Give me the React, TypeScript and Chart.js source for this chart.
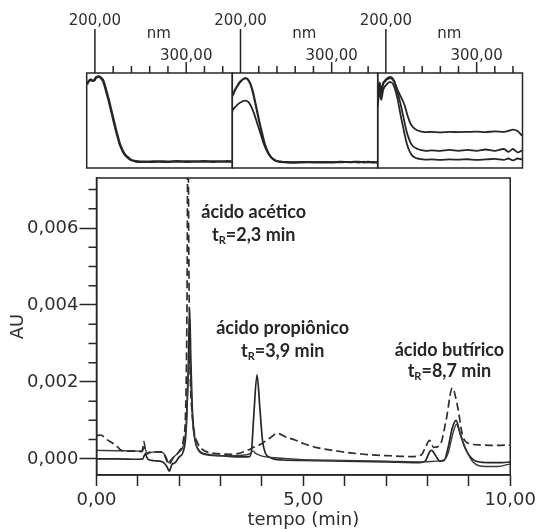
import React, { useEffect, useRef } from 'react';
import { Chart, registerables } from 'chart.js';
Chart.register(...registerables);

// ---------- Main chromatogram data ----------
const trace1Time = [0, 0.5, 1.0, 1.12, 1.17, 1.25, 1.4, 1.6, 1.7, 1.76, 1.82, 1.9, 2.0, 2.1, 2.17, 2.22, 2.25, 2.28, 2.32, 2.38, 2.45, 2.6, 3.0, 3.5, 3.7, 3.75, 3.8, 3.88, 3.95, 4.01, 4.08, 4.18, 4.5, 5.0, 6.0, 7.0, 7.8, 7.95, 8.05, 8.1, 8.2, 8.3, 8.4, 8.5, 8.6, 8.69, 8.78, 8.9, 9.0, 9.2, 9.5, 9.8, 10.0];
const trace1AU = [0.0, 0.0, -0.00001, 0.0, 0.00012, -0.00002, -0.00005, -0.00008, -0.0002, -0.00032, -0.00015, -0.0001, 0.00005, 0.0002, 0.0008, 0.0025, 0.0039, 0.0026, 0.0012, 0.0005, 0.00025, 0.00012, 0.00008, 0.00005, 0.00006, 0.00025, 0.0011, 0.00218, 0.0013, 0.0005, 0.00015, 0.00004, -0.00003, -0.00004, -0.00006, -0.00008, -0.0001, -0.00005, 0.00018, 0.00022, 0.00008, -0.00006, -0.00005, 0.0003, 0.0008, 0.001, 0.0007, 0.0003, 0.0001, -0.00007, -0.0001, -0.0001, -0.00008];

const trace2Time = [0, 0.5, 1.0, 1.1, 1.16, 1.22, 1.4, 1.6, 1.68, 1.74, 1.8, 1.9, 2.0, 2.1, 2.17, 2.22, 2.25, 2.28, 2.33, 2.4, 2.5, 2.7, 3.2, 3.6, 3.72, 3.78, 3.85, 4.0, 4.3, 5.0, 6.0, 7.0, 7.9, 8.2, 8.4, 8.5, 8.6, 8.7, 8.8, 8.95, 9.1, 9.4, 9.7, 10.0];
const trace2AU = [0.00022, 0.00021, 0.0002, 0.00018, 0.0003, 0.00015, 0.00018, 0.00016, 0.00005, -0.0001, -0.00002, 0.00008, 0.00018, 0.00035, 0.0009, 0.0022, 0.0028, 0.002, 0.0009, 0.0004, 0.0002, 0.00012, 0.00008, 0.0001, 0.00014, 0.0002, 0.00014, 0.00007, 0.00003, -0.00002, -0.00004, -0.00006, -0.00008, -0.00006, -0.00003, 0.00015, 0.0006, 0.0009, 0.0006, 0.0002, -0.00008, -0.0002, -0.0002, -0.00013];

const trace3Time = [0, 0.1, 0.25, 0.4, 0.5, 0.6, 0.8, 1.1, 1.15, 1.19, 1.3, 1.6, 1.68, 1.75, 1.85, 2.0, 2.1, 2.16, 2.19, 2.21, 2.23, 2.26, 2.31, 2.36, 2.45, 2.55, 2.8, 3.3, 3.6, 3.8, 4.0, 4.2, 4.37, 4.6, 4.8, 5.0, 5.3, 5.9, 6.45, 7.1, 7.6, 7.85, 7.95, 8.05, 8.15, 8.3, 8.45, 8.6, 8.72, 8.85, 9.0, 9.3, 9.7, 10.0];
const trace3AU = [0.0006, 0.00062, 0.0005, 0.0004, 0.00032, 0.00022, 0.0002, 0.0002, 0.00045, 0.0001, 0.00018, 0.00018, 0.0, -0.00015, 0.00002, 0.0002, 0.0005, 0.0015, 0.0045, 0.0095, 0.0055, 0.0025, 0.0012, 0.0007, 0.0004, 0.00025, 0.00015, 0.00012, 0.0002, 0.0003, 0.0004, 0.00055, 0.00066, 0.00056, 0.00049, 0.0004, 0.0003, 0.00019, 0.00012, 0.00008, 0.00006, 0.0001, 0.0003, 0.00048, 0.0003, 0.00035, 0.001, 0.00184, 0.0014, 0.0006, 0.0004, 0.00036, 0.00035, 0.00036];

const xTickValues = [0, 1, 2, 3, 4, 5, 6, 7, 8, 9, 10];
const xLabelValues = [0, 5, 10];
const yMajorTicks = [0, 0.002, 0.004, 0.006];
const yMinorTicks = [0.0005, 0.001, 0.0015, 0.0025, 0.003, 0.0035, 0.0045, 0.005, 0.0055, 0.0065, 0.007];

const peakNames = ['ácido acético', 'ácido propiônico', 'ácido butírico'];
const peakRT = ['2,3', '3,9', '8,7'];
const peakLabelX = [3.8, 4.5, 8.53];
const peakLabelY = [0.00625, 0.00325, 0.00268];
const peakRTLabelY = [0.00565, 0.00265, 0.00212];

// ---------- Inset spectra data ----------
const insetNm = [191, 193, 195, 197, 199, 201, 203, 205, 207, 209, 211, 213, 215, 217, 219, 221, 223, 225, 227, 229, 231, 233, 235, 238, 241, 245, 250, 260, 270, 280, 290, 300, 310, 320, 330, 335, 340, 345, 350];
const spectrumA1 = [0.88, 0.91, 0.93, 0.92, 0.92, 0.95, 0.96, 0.96, 0.945, 0.92, 0.86, 0.79, 0.72, 0.64, 0.56, 0.48, 0.4, 0.33, 0.26, 0.21, 0.17, 0.14, 0.12, 0.095, 0.08, 0.07, 0.066, 0.066, 0.068, 0.066, 0.07, 0.067, 0.068, 0.07, 0.067, 0.069, 0.068, 0.07, 0.068];
const spectrumB1 = [0.76, 0.8, 0.84, 0.87, 0.9, 0.92, 0.935, 0.945, 0.94, 0.92, 0.88, 0.82, 0.74, 0.65, 0.56, 0.47, 0.39, 0.31, 0.24, 0.19, 0.15, 0.12, 0.1, 0.08, 0.07, 0.065, 0.062, 0.06, 0.062, 0.06, 0.063, 0.06, 0.064, 0.062, 0.066, 0.06, 0.065, 0.058, 0.062];
const spectrumB2 = [0.6, 0.63, 0.65, 0.67, 0.685, 0.695, 0.705, 0.71, 0.705, 0.69, 0.66, 0.62, 0.57, 0.51, 0.45, 0.39, 0.33, 0.27, 0.22, 0.18, 0.145, 0.12, 0.1, 0.08, 0.07, 0.065, 0.06, 0.058, 0.06, 0.062, 0.058, 0.062, 0.06, 0.064, 0.058, 0.066, 0.06, 0.064, 0.058];
const spectrumC1 = [0.78, 0.9, 0.82, 0.9, 0.91, 0.93, 0.94, 0.945, 0.935, 0.91, 0.87, 0.82, 0.78, 0.74, 0.7, 0.65, 0.58, 0.52, 0.47, 0.44, 0.42, 0.405, 0.395, 0.385, 0.38, 0.378, 0.38, 0.375, 0.38, 0.378, 0.38, 0.382, 0.378, 0.385, 0.38, 0.39, 0.405, 0.39, 0.34];
const spectrumC2 = [0.7, 0.85, 0.78, 0.88, 0.92, 0.94, 0.955, 0.96, 0.95, 0.92, 0.86, 0.79, 0.72, 0.64, 0.55, 0.46, 0.38, 0.32, 0.27, 0.24, 0.22, 0.21, 0.2, 0.19, 0.185, 0.18, 0.185, 0.18, 0.19, 0.18, 0.19, 0.18, 0.195, 0.18, 0.2, 0.17, 0.2, 0.165, 0.185];
const spectrumC3 = [0.65, 0.8, 0.72, 0.82, 0.86, 0.88, 0.9, 0.905, 0.895, 0.86, 0.8, 0.72, 0.62, 0.52, 0.43, 0.34, 0.26, 0.2, 0.16, 0.13, 0.115, 0.105, 0.1, 0.095, 0.09, 0.088, 0.09, 0.085, 0.09, 0.088, 0.092, 0.085, 0.09, 0.095, 0.085, 0.1, 0.08, 0.1, 0.09];
const insetMinorTicks = [220, 240, 260, 280, 320, 340];
const insetMajorLabels = ['200,00', '300,00'];

const INK = '#262626';
const TXT = '#2e2e2e';

function toXY(xs: number[], ys: number[]) {
  return xs.map((x, i) => ({ x, y: ys[i] }));
}
function fmt(v: number, d: number) {
  return v.toFixed(d).replace('.', ',');
}

const mainPlugin = {
  id: 'mainDecor',
  afterDraw(chart: any) {
    const { ctx, chartArea } = chart;
    const xs = chart.scales.x;
    const ys = chart.scales.y;
    ctx.save();
    ctx.strokeStyle = INK;
    ctx.lineWidth = 1.5;
    ctx.strokeRect(chartArea.left, chartArea.top, chartArea.right - chartArea.left, chartArea.bottom - chartArea.top);
    ctx.beginPath();
    yMinorTicks.forEach((v) => {
      const py = ys.getPixelForValue(v);
      ctx.moveTo(chartArea.left - 8, py);
      ctx.lineTo(chartArea.left, py);
    });
    ctx.stroke();
    ctx.fillStyle = '#262626';
    const big = 'bold 18px Lato';
    const small = 'bold 11px Lato';
    peakNames.forEach((name, i) => {
      const cx = xs.getPixelForValue(peakLabelX[i]);
      const cy = ys.getPixelForValue(peakLabelY[i]);
      ctx.font = big;
      ctx.textAlign = 'center';
      ctx.textBaseline = 'alphabetic';
      ctx.fillText(name, cx, cy);
      const cy2 = ys.getPixelForValue(peakRTLabelY[i]);
      const rest = '=' + peakRT[i] + ' min';
      ctx.font = big;
      const wT = ctx.measureText('t').width;
      const wRest = ctx.measureText(rest).width;
      ctx.font = small;
      const wR = ctx.measureText('R').width;
      const total = wT + wR + wRest;
      let x0 = cx - total / 2;
      ctx.textAlign = 'left';
      ctx.font = big;
      ctx.fillText('t', x0, cy2);
      x0 += wT;
      ctx.font = small;
      ctx.fillText('R', x0, cy2 + 3);
      x0 += wR;
      ctx.font = big;
      ctx.fillText(rest, x0, cy2);
    });
    ctx.restore();
  },
};

const insetPlugin = {
  id: 'insetDecor',
  afterDraw(chart: any) {
    const { ctx, chartArea } = chart;
    const xs = chart.scales.x;
    const top = chartArea.top;
    ctx.save();
    ctx.strokeStyle = INK;
    ctx.lineWidth = 1.5;
    ctx.strokeRect(chartArea.left, chartArea.top, chartArea.right - chartArea.left, chartArea.bottom - chartArea.top);
    ctx.beginPath();
    insetMinorTicks.forEach((v) => {
      const px = xs.getPixelForValue(v);
      ctx.moveTo(px, top);
      ctx.lineTo(px, top - 7);
    });
    const p200 = xs.getPixelForValue(200);
    const p300 = xs.getPixelForValue(300);
    ctx.moveTo(p200, top);
    ctx.lineTo(p200, top - 44);
    ctx.moveTo(p300, top);
    ctx.lineTo(p300, top - 11);
    ctx.stroke();
    ctx.fillStyle = TXT;
    ctx.font = '15px "DejaVu Sans"';
    ctx.textAlign = 'center';
    ctx.textBaseline = 'alphabetic';
    ctx.fillText(insetMajorLabels[0], p200, top - 48);
    ctx.fillText(insetMajorLabels[1], p300, top - 13);
    ctx.fillText('nm', xs.getPixelForValue(270), top - 35);
    ctx.restore();
  },
};

function makeInset(canvas: HTMLCanvasElement, left: number, right: number, series: number[][], widths: number[]) {
  return new Chart(canvas, {
    type: 'line',
    data: {
      datasets: series.map((s, i) => ({
        data: toXY(insetNm, s),
        borderColor: INK,
        borderWidth: widths[i],
        pointRadius: 0,
        tension: 0.3,
      })),
    },
    options: {
      animation: false,
      responsive: false,
      maintainAspectRatio: false,
      layout: { padding: { left, right: 540 - right, top: 73, bottom: 530 - 168 } },
      plugins: { legend: { display: false }, tooltip: { enabled: false } },
      scales: {
        x: { type: 'linear', min: 191, max: 350.5, display: false },
        y: { type: 'linear', min: 0, max: 1, display: false },
      },
    },
    plugins: [insetPlugin],
  } as any);
}

export default function App() {
  const mainRef = useRef<HTMLCanvasElement>(null);
  const in1 = useRef<HTMLCanvasElement>(null);
  const in2 = useRef<HTMLCanvasElement>(null);
  const in3 = useRef<HTMLCanvasElement>(null);

  useEffect(() => {
    document.body.style.margin = '0';
    const main = new Chart(mainRef.current!, {
      type: 'line',
      data: {
        datasets: [
          { data: toXY(trace3Time, trace3AU), borderColor: '#2e2e2e', borderWidth: 1.7, borderDash: [8, 4], pointRadius: 0, cubicInterpolationMode: 'monotone' },
          { data: toXY(trace2Time, trace2AU), borderColor: '#3a3a3a', borderWidth: 1.4, pointRadius: 0, cubicInterpolationMode: 'monotone' },
          { data: toXY(trace1Time, trace1AU), borderColor: INK, borderWidth: 1.7, pointRadius: 0, cubicInterpolationMode: 'monotone' },
        ],
      },
      options: {
        animation: false,
        responsive: false,
        maintainAspectRatio: false,
        layout: { padding: { top: 178, right: 27, left: 0, bottom: 0 } },
        plugins: { legend: { display: false }, tooltip: { enabled: false } },
        scales: {
          x: {
            type: 'linear',
            min: 0,
            max: 10,
            afterBuildTicks: (s: any) => { s.ticks = xTickValues.map((v) => ({ value: v })); },
            afterFit: (s: any) => { s.height = 55; },
            ticks: {
              callback: (v: any) => (xLabelValues.includes(Number(v)) ? fmt(Number(v), 2) : ''),
              autoSkip: false,
              maxRotation: 0,
              font: { family: 'DejaVu Sans', size: 18 },
              color: TXT,
              padding: 4,
            },
            grid: { drawOnChartArea: false, drawTicks: true, tickLength: 11, tickColor: INK, tickWidth: 1.5 },
            border: { display: true, color: INK, width: 1.5 },
            title: { display: true, text: 'tempo (min)', font: { family: 'DejaVu Sans', size: 18 }, color: TXT, padding: { top: 0, bottom: -1 } },
          },
          y: {
            type: 'linear',
            min: -0.00042,
            max: 0.0073,
            afterBuildTicks: (s: any) => { s.ticks = yMajorTicks.map((v) => ({ value: v })); },
            afterFit: (s: any) => { s.width = 96.5; },
            ticks: {
              callback: (v: any) => fmt(Number(v), 3),
              font: { family: 'DejaVu Sans', size: 18 },
              color: TXT,
              padding: 1,
            },
            grid: { drawOnChartArea: false, drawTicks: true, tickLength: 17, tickColor: INK, tickWidth: 1.5 },
            border: { display: true, color: INK, width: 1.5 },
            title: { display: true, text: 'AU', font: { family: 'DejaVu Sans', size: 18 }, color: TXT, padding: { top: 8, bottom: 0 } },
          },
        },
      },
      plugins: [mainPlugin],
    } as any);

    const c1 = makeInset(in1.current!, 86.7, 232.3, [spectrumA1], [2.6]);
    const c2 = makeInset(in2.current!, 232.3, 377.7, [spectrumB1, spectrumB2], [2.2, 1.8]);
    const c3 = makeInset(in3.current!, 377.7, 522.5, [spectrumC1, spectrumC2, spectrumC3], [1.8, 1.8, 1.8]);
    return () => {
      main.destroy();
      c1.destroy();
      c2.destroy();
      c3.destroy();
    };
  }, []);

  const abs: React.CSSProperties = { position: 'absolute', left: 0, top: 0 };
  return (
    <div style={{ position: 'relative', width: 540, height: 530, background: '#fff' }}>
      <canvas ref={mainRef} width={540} height={530} style={abs} />
      <canvas ref={in1} width={540} height={530} style={abs} />
      <canvas ref={in2} width={540} height={530} style={abs} />
      <canvas ref={in3} width={540} height={530} style={abs} />
    </div>
  );
}
